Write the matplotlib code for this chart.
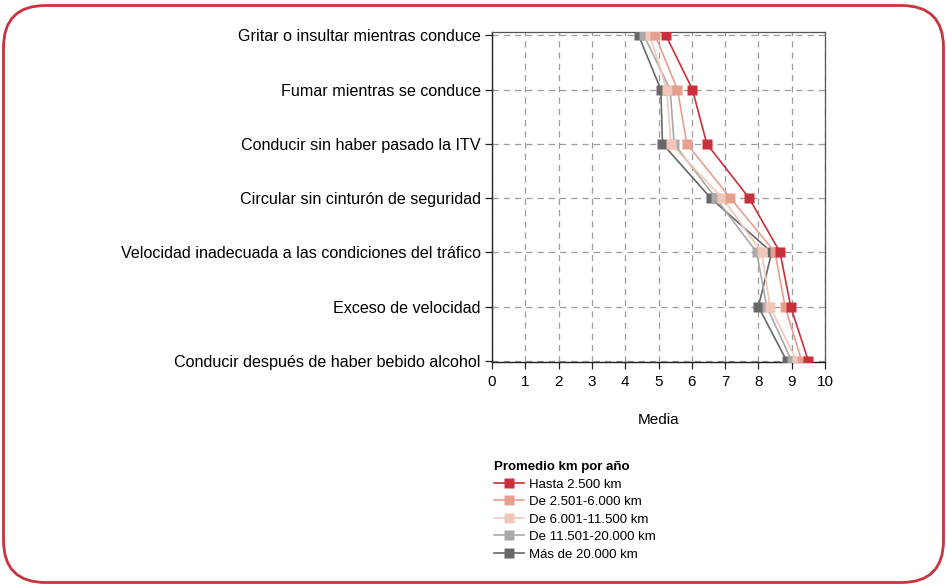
import matplotlib
matplotlib.use("Agg")
import matplotlib.pyplot as plt
from matplotlib.patches import FancyBboxPatch

plt.rcParams["font.family"] = ["Liberation Sans", "DejaVu Sans"]

# Conductas, de arriba abajo
CONDUCTAS = [
    "Gritar o insultar mientras conduce",
    "Fumar mientras se conduce",
    "Conducir sin haber pasado la ITV",
    "Circular sin cinturón de seguridad",
    "Velocidad inadecuada a las condiciones del tráfico",
    "Exceso de velocidad",
    "Conducir después de haber bebido alcohol",
]

GRUPOS = ["Hasta 2.500 km", "De 2.501-6.000 km", "De 6.001-11.500 km",
          "De 11.501-20.000 km", "Más de 20.000 km"]
COLORES = ["#c9303c", "#e8a08e", "#f3c7b8", "#a9a9a9", "#686868"]

hasta_2500 = [5.22, 6.02, 6.45, 7.72, 8.65, 8.97, 9.50]
de_2501_6000 = [4.90, 5.57, 5.85, 7.16, 8.50, 8.80, 9.30]
de_6001_11500 = [4.74, 5.25, 5.37, 6.92, 8.10, 8.35, 9.15]
de_11501_20000 = [4.56, 5.35, 5.47, 6.72, 7.95, 8.25, 9.00]
mas_20000 = [4.40, 5.07, 5.12, 6.57, 8.40, 8.00, 8.85]
SERIES = [hasta_2500, de_2501_6000, de_6001_11500, de_11501_20000, mas_20000]

W, H = 947, 585
fig = plt.figure(figsize=(W / 100, H / 100), dpi=100)

# marco rojo redondeado (en unidades de pixel)
bg = fig.add_axes([0, 0, 1, 1], zorder=-1)
bg.set_xlim(0, W)
bg.set_ylim(0, H)
bg.axis("off")
bg.add_patch(FancyBboxPatch((3.5, 2.5), W - 7, H - 8,
                            boxstyle="round,pad=0,rounding_size=42",
                            fc="white", ec="#c9333f", lw=2))

ax = fig.add_axes([492 / W, 1 - 362 / H, 333 / W, 330 / H])
n = len(CONDUCTAS)
ypos = list(range(n - 1, -1, -1))

for i in range(len(SERIES) - 1, -1, -1):
    ax.plot(SERIES[i], ypos, color=COLORES[i], lw=1.2, marker="s", ms=6.5,
            mec="none", label=GRUPOS[i], zorder=3 + (len(SERIES) - i))

ax.set_xlim(0, 10)
ax.set_ylim(-0.02, n - 1 + 0.06)
ax.set_xticks(range(0, 11))
ax.set_yticks(ypos)
ax.set_yticklabels(CONDUCTAS)
ax.tick_params(axis="both", length=5, width=0.9, color="#222222")
ax.tick_params(axis="y", labelsize=11.6, pad=3)
ax.tick_params(axis="x", labelsize=11, pad=4)
ax.grid(True, color="#9c9c9c", lw=0.9, ls=(0, (5, 4)))
ax.set_axisbelow(True)
for side in ["left", "bottom"]:
    ax.spines[side].set_color("#222222")
    ax.spines[side].set_linewidth(1.0)
for side in ["top", "right"]:
    ax.spines[side].set_color("#555555")
    ax.spines[side].set_linewidth(0.9)
ax.set_xlabel("Media", fontsize=11, labelpad=18)

handles, labels = ax.get_legend_handles_labels()
handles, labels = handles[::-1], labels[::-1]
leg = fig.legend(handles, labels, title="Promedio km por año",
                 loc="upper left", bbox_to_anchor=(494 / W, 1 - 461 / H),
                 frameon=False, fontsize=9.5, title_fontproperties={"weight": "bold", "size": 9.5},
                 alignment="left", handlelength=2.3, handletextpad=0.35,
                 labelspacing=0.4, borderpad=0, borderaxespad=0)

fig.savefig("out.png", dpi=100)
